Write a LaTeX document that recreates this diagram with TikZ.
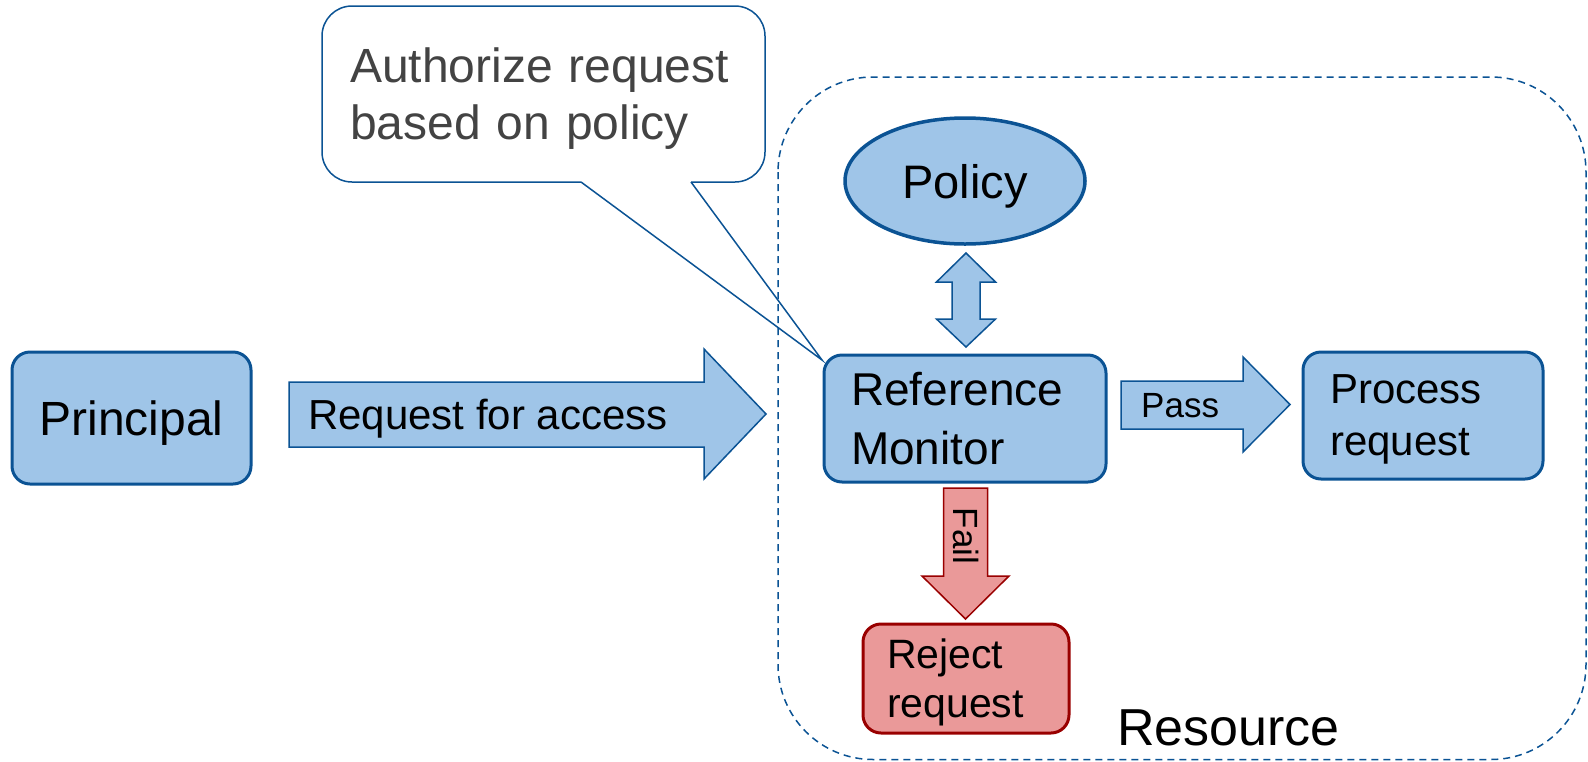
\documentclass[tikz,border=0pt]{standalone}
\usepackage{fontspec}
\setmainfont{Liberation Sans}
\usetikzlibrary{shapes.geometric}

\definecolor{boxblue}{HTML}{9FC5E8}
\definecolor{edgeblue}{HTML}{0B5394}
\definecolor{boxred}{HTML}{EA9999}
\definecolor{edgered}{HTML}{990000}
\definecolor{notegray}{HTML}{434343}

\tikzset{
  card/.style={draw=edgeblue, fill=boxblue, line width=3pt, rounded corners=18pt,
    inner ysep=0pt},
  redcard/.style={card, draw=edgered, fill=boxred},
  blockarrow/.style={draw=edgeblue, fill=boxblue, line width=1.5pt, line join=miter},
  redarrow/.style={blockarrow, draw=edgered, fill=boxred},
  note/.style={draw=edgeblue, fill=white, line width=1.5pt, rounded corners=30pt,
    inner ysep=0pt, align=left, text=notegray},
  resource/.style={draw=edgeblue, line width=1.5pt, dash pattern=on 7pt off 5pt,
    rounded corners=95pt},
  lbl/.style={inner sep=0pt, text depth=0pt}
}

\begin{document}
\begin{tikzpicture}[x=1pt, y=-1pt]
\useasboundingbox (0,0) rectangle (1588,761);

% speech bubble with its pointer
\node[note, minimum width=443pt, minimum height=176pt, inner xsep=28pt, text width=387pt,
      text depth=57pt, font=\fontsize{48}{57}\selectfont] (note) at (543.5,94)
  {Authorize request\\based on policy};
\coordinate (calltip) at (822,360);
\coordinate (notel) at (581,182);
\coordinate (noter) at (691,182);
\fill[white] (581,180.5) -- (691,180.5) -- (noter) -- (calltip) -- (notel) -- cycle;
\draw[edgeblue, line width=1.5pt] (notel) -- (calltip) -- (noter);

% resource boundary
\draw[resource] (778,77) rectangle (1586,759.5);
\node[lbl, anchor=base west, font=\fontsize{52}{60}\selectfont] (resource) at (1117,745) {Resource};

% boxes
\node[card, minimum width=239pt, minimum height=132pt, align=center, text depth=0pt,
      font=\fontsize{48}{58}\selectfont] (principal) at (131.5,418) {Principal};
\node[card, minimum width=282pt, minimum height=127pt, inner xsep=27pt, text width=228pt,
      align=left, text depth=59pt, font=\fontsize{46}{59}\selectfont] (monitor) at (965,418.5)
  {Reference\\Monitor};
\node[card, minimum width=240pt, minimum height=127pt, inner xsep=27pt, text width=186pt,
      align=left, text depth=52pt, font=\fontsize{42}{52}\selectfont] (process) at (1423,415.5)
  {Process\\request};
\node[redcard, minimum width=206pt, minimum height=109pt, inner xsep=24pt, text width=158pt,
      align=left, text depth=49pt, font=\fontsize{41}{49}\selectfont] (reject) at (966,678.5)
  {Reject\\request};
\node[ellipse, draw=edgeblue, fill=boxblue, line width=3.5pt, minimum width=240pt,
      minimum height=126pt, inner sep=0pt, text depth=0pt,
      font=\fontsize{47}{56}\selectfont] (policy) at (965,181) {Policy};

% request arrow
\draw[blockarrow] (289,382) -- (704,382) -- (704,349) -- (766,414) -- (704,479)
  -- (704,447) -- (289,447) -- cycle;
\node[lbl, anchor=base west, font=\fontsize{42}{50}\selectfont] (reqlabel) at (308,429)
  {Request for access};

% policy <-> monitor
\draw[blockarrow] (966,253) -- (995.5,282) -- (980,282) -- (980,319) -- (995.5,319)
  -- (966,347) -- (936.5,319) -- (952,319) -- (952,282) -- (936.5,282) -- cycle;

% pass arrow
\draw[blockarrow] (1121,381) -- (1243,381) -- (1243,357) -- (1290,404.5) -- (1243,452)
  -- (1243,429) -- (1121,429) -- cycle;
\node[lbl, anchor=base west, font=\fontsize{35}{42}\selectfont] (passlabel) at (1141,417) {Pass};

% fail arrow
\draw[redarrow] (943.5,488) -- (987.5,488) -- (987.5,576) -- (1009,576) -- (965.5,619)
  -- (922,576) -- (943.5,576) -- cycle;
\node[lbl, rotate=-90, font=\fontsize{35}{42}\selectfont] (faillabel) at (966,536) {Fail};
\end{tikzpicture}
\end{document}
